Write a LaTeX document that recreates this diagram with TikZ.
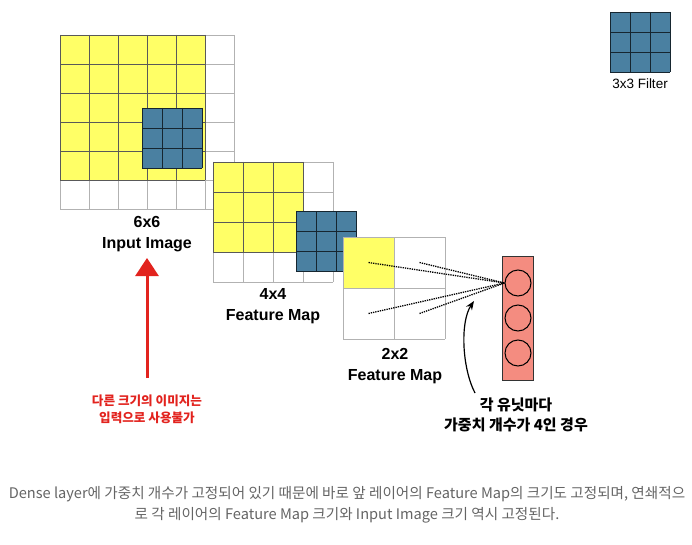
\documentclass[tikz,border=0pt]{standalone}
\usepackage{fontspec}
\setmainfont{Liberation Sans}
\newfontfamily\kor{Noto Sans CJK KR}
\usetikzlibrary{arrows.meta}
\definecolor{gelb}{RGB}{255,255,102}
\definecolor{filterblau}{RGB}{74,128,161}
\definecolor{lachs}{RGB}{244,140,128}
\definecolor{warnrot}{RGB}{226,35,30}
\definecolor{textgrau}{RGB}{100,100,100}
\tikzstyle{gitter}=[draw=black!30, line width=0.8pt]
\tikzstyle{gitter gelb}=[draw=black!65, line width=0.6pt]
\tikzstyle{filterlinie}=[draw=black!70!filterblau, line width=0.8pt]
\tikzstyle{titel}=[font=\bfseries\fontsize{16}{21}\selectfont, align=center]
\tikzstyle{dense}=[draw=black!80, fill=lachs, line width=0.8pt, minimum width=31pt, minimum height=124pt, inner sep=0pt]
\tikzstyle{einheit}=[circle, draw=black, line width=1pt, minimum size=26pt, inner sep=0pt]
\tikzstyle{gewicht}=[densely dotted, line width=1.3pt]
\tikzstyle{hinweis}=[font=\kor\bfseries\fontsize{12.6}{17}\selectfont, text=warnrot, align=center]
\tikzstyle{erklaerung}=[font=\kor\bfseries\fontsize{15}{20}\selectfont, align=center]
\tikzstyle{unterschrift}=[font=\kor\fontsize{14.6}{20}\selectfont, text=textgrau]

\begin{document}
\begin{tikzpicture}[x=1pt, y=-1pt]
			\useasboundingbox (0,0) rectangle (692,545);
			% Eingabebild 6x6
			\fill[gelb] (60,35) rectangle (205,180);
			\foreach \i in {0,...,6} {
				\draw[gitter] (60+\i*29,35) -- (60+\i*29,209);
				\draw[gitter] (60,35+\i*29) -- (234,35+\i*29);
			}
			\foreach \i in {0,...,5} {
				\draw[gitter gelb] (60+\i*29,35) -- (60+\i*29,180);
				\draw[gitter gelb] (60,35+\i*29) -- (205,35+\i*29);
			}
			\fill[filterblau] (142,108) rectangle (202,168);
			\foreach \i in {0,...,3} {
				\draw[filterlinie] (142+\i*20,108) -- ++(0,60);
				\draw[filterlinie] (142,108+\i*20) -- ++(60,0);
			}
			% Feature Map 4x4
			\fill[white] (213,162) rectangle (333,282);
			\fill[gelb] (213,162) rectangle (303,252);
			\foreach \i in {0,...,4} {
				\draw[gitter] (213+\i*30,162) -- (213+\i*30,282);
				\draw[gitter] (213,162+\i*30) -- (333,162+\i*30);
			}
			\foreach \i in {0,...,3} {
				\draw[gitter gelb] (213+\i*30,162) -- (213+\i*30,252);
				\draw[gitter gelb] (213,162+\i*30) -- (303,162+\i*30);
			}
			\fill[filterblau] (296,211) rectangle (356,271);
			\foreach \i in {0,...,3} {
				\draw[filterlinie] (296+\i*20,211) -- ++(0,60);
				\draw[filterlinie] (296,211+\i*20) -- ++(60,0);
			}
			% Feature Map 2x2
			\fill[white] (343,237) rectangle (445,339);
			\fill[gelb] (343,237) rectangle (394,288);
			\foreach \i in {0,...,2} {
				\draw[gitter] (343+\i*51,237) -- (343+\i*51,339);
				\draw[gitter] (343,237+\i*51) -- (445,237+\i*51);
			}
			% Filter 3x3 (Legende)
			\fill[filterblau] (610,12) rectangle (670,72);
			\foreach \i in {0,...,3} {
				\draw[filterlinie] (610+\i*20,12) -- ++(0,60);
				\draw[filterlinie] (610,12+\i*20) -- ++(60,0);
			}
			\node[font=\fontsize{13.5}{16}\selectfont] (legende) at (640,84) {3x3 Filter};
			% Beschriftungen
			\node[titel] (eingabe) at (147,234) {6x6\\Input Image};
			\node[titel] (map4) at (273,306) {4x4\\Feature Map};
			\node[titel] (map2) at (395,366) {2x2\\Feature Map};
			% Dense Layer
			\node[dense] (dense) at (517.5,318) {};
			\foreach \k/\y in {1/283,2/318,3/353}
				\node[einheit] (u\k) at (518,\y) {};
			% Gewichte
			\coordinate (z11) at (368.5,262.5);
			\coordinate (z12) at (419.5,262.5);
			\coordinate (z21) at (368.5,313.5);
			\coordinate (z22) at (419.5,313.5);
			\foreach \z in {z11,z12,z21,z22}
				\draw[gewicht] (\z) -- (u1.west);
			% Erklaerung mit Pfeil
			\node[erklaerung] (anzahl) at (516,415) {각 유닛마다\\가중치 개수가 4인 경우};
			\coordinate (pfeilstart) at (475,393);
			\coordinate (pfeilziel) at (474,301);
			\draw[line width=1.2pt, -{Stealth[length=9pt,width=7pt]}] (pfeilstart) .. controls (462,368) and (460,322) .. (pfeilziel);
			% Hinweis mit rotem Pfeil
			\node[hinweis] (warnung) at (147,409) {다른 크기의 이미지는\\입력으로 사용불가};
			\coordinate (rotstart) at (147,378);
			\coordinate (rotziel) at (147,258);
			\draw[warnrot, line width=3pt, -{Triangle[length=18pt,width=23pt]}] (rotstart) -- (rotziel);
			% Bildunterschrift
			\node[unterschrift] (zeile1) at (347,494) {Dense layer에 가중치 개수가 고정되어 있기 때문에 바로 앞 레이어의 Feature Map의 크기도 고정되며, 연쇄적으};
			\node[unterschrift] (zeile2) at (347,515) {로 각 레이어의 Feature Map 크기와 Input Image 크기 역시 고정된다.};
		\end{tikzpicture}
\end{document}
